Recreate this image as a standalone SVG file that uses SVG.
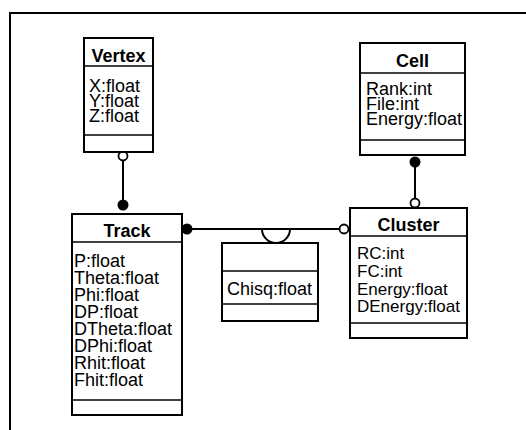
<svg xmlns="http://www.w3.org/2000/svg" width="526" height="430" viewBox="0 0 526 430">
<style>
.box{fill:#fff;stroke:#000;stroke-width:2}
.div{stroke:#000;stroke-width:1.5}
.t{font-family:"Liberation Sans",Arial,sans-serif;font-size:18px;fill:#000}
.s{font-size:17px}
.b{font-weight:bold;text-anchor:middle}
.ln{stroke:#000;stroke-width:2;fill:none}
.oc{fill:#fff;stroke:#000;stroke-width:1.8}
.fc{fill:#000}
</style>
<rect width="526" height="430" fill="#fff"/>
<path d="M10,430 V13 H526" class="ln"/>
<g id="connectors">
<line x1="123" y1="160" x2="123" y2="201" class="ln"/>
<circle cx="123" cy="156" r="4.5" class="oc"/>
<circle cx="123" cy="205" r="5.5" class="fc"/>
<line x1="415" y1="163" x2="415" y2="200" class="ln"/>
<circle cx="415" cy="162" r="5.5" class="fc"/>
<circle cx="415" cy="203" r="4.5" class="oc"/>
<line x1="188" y1="229" x2="339" y2="229" class="ln"/>
<circle cx="187" cy="229" r="5.5" class="fc"/>
<circle cx="344" cy="229" r="4.5" class="oc"/>
<path d="M262,229 A14,14 0 0 0 290,229" class="ln"/>
</g>
<g id="vertex">
<rect x="84" y="38" width="69" height="114" class="box"/>
<line x1="84" y1="66" x2="153" y2="66" class="div"/>
<line x1="84" y1="135" x2="153" y2="135" class="div"/>
<text x="118.5" y="62" class="t b">Vertex</text>
<text x="89" y="92" class="t">X:float</text>
<text x="89" y="107" class="t">Y:float</text>
<text x="89" y="122" class="t">Z:float</text>
</g>
<g id="cell">
<rect x="360" y="43" width="105" height="112" class="box"/>
<line x1="360" y1="73" x2="465" y2="73" class="div"/>
<line x1="360" y1="140" x2="465" y2="140" class="div"/>
<text x="412.5" y="67" class="t b">Cell</text>
<text x="366" y="95" class="t">Rank:int</text>
<text x="366" y="110" class="t">File:int</text>
<text x="366" y="125" class="t">Energy:float</text>
</g>
<g id="track">
<rect x="72" y="214" width="110" height="201" class="box"/>
<line x1="72" y1="242" x2="182" y2="242" class="div"/>
<line x1="72" y1="400" x2="182" y2="400" class="div"/>
<text x="127" y="237" class="t b">Track</text>
<text x="74" y="267" class="t">P:float</text>
<text x="74" y="284" class="t">Theta:float</text>
<text x="74" y="301" class="t">Phi:float</text>
<text x="74" y="318" class="t">DP:float</text>
<text x="74" y="335" class="t">DTheta:float</text>
<text x="74" y="352" class="t">DPhi:float</text>
<text x="74" y="369" class="t">Rhit:float</text>
<text x="74" y="386" class="t">Fhit:float</text>
</g>
<g id="chisq">
<rect x="222" y="243" width="96" height="78" class="box"/>
<line x1="222" y1="271" x2="318" y2="271" class="div"/>
<line x1="222" y1="304" x2="318" y2="304" class="div"/>
<text x="227" y="295" class="t">Chisq:float</text>
</g>
<g id="cluster">
<rect x="350" y="208" width="117" height="130" class="box"/>
<line x1="350" y1="236" x2="467" y2="236" class="div"/>
<line x1="350" y1="323" x2="467" y2="323" class="div"/>
<text x="408.5" y="231" class="t b">Cluster</text>
<text x="357" y="259" class="t s">RC:int</text>
<text x="357" y="277" class="t s">FC:int</text>
<text x="357" y="295" class="t s">Energy:float</text>
<text x="357" y="312" class="t s">DEnergy:float</text>
</g>
</svg>
